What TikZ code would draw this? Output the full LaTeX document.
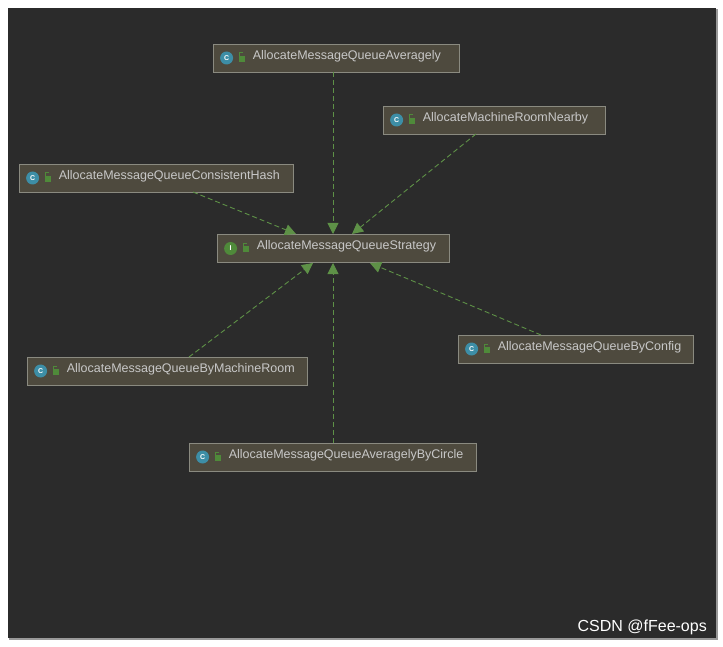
\documentclass[tikz,border=0pt]{standalone}
\usepackage{fontspec}
\setmainfont{Liberation Sans}
\usetikzlibrary{arrows.meta}
\definecolor{bg}{HTML}{2B2B2B}
\definecolor{boxf}{HTML}{4E4A3E}
\definecolor{boxd}{HTML}{8A8A80}
\definecolor{txt}{HTML}{C8C8C8}
\definecolor{grn}{HTML}{5E9147}
\definecolor{teal}{HTML}{3D8EA6}
\definecolor{igr}{HTML}{4F8A3A}
\tikzset{
 cls/.style={draw=boxd,fill=boxf,line width=0.8pt,minimum height=28pt,inner sep=0pt,anchor=center},
 lbl/.style={text=txt,font=\fontsize{12.5}{12.5}\selectfont,anchor=west,inner sep=0pt},
 rel/.style={draw=grn,line width=0.9pt,dash pattern=on 5pt off 3pt,-{Triangle[length=11pt,width=11pt,fill=grn]}},
}
\newcommand{\mkbox}[7]{% name, cx, cy, width, colour, letter, text
 \node[cls,minimum width=#4pt] (#1) at (#2,#3) {};
 \fill[#5] ([xshift=14pt]#1.west) circle (6.5pt);
 \node[text=white,font=\bfseries\fontsize{7}{7}\selectfont,inner sep=0pt] at ([xshift=14pt]#1.west) {#6};
 \fill[igr] ([xshift=26pt,yshift=-4pt]#1.west) rectangle ([xshift=32pt,yshift=2pt]#1.west);
 \draw[igr,line width=1pt] ([xshift=27pt,yshift=2pt]#1.west) -- ++(0,3pt) -- ++(3pt,0);
 \node[lbl] at ([xshift=40pt,yshift=2pt]#1.west) {#7};
}
\begin{document}
\begin{tikzpicture}[x=1pt,y=-1pt]
\useasboundingbox (0,0) rectangle (723,647);
\fill[white] (0,0) rectangle (723,647);
\fill[black!40] (9,9) rectangle (718,640);
\fill[bg] (8,8) rectangle (716,638);
\mkbox{avg}{336}{58}{246}{teal}{C}{AllocateMessageQueueAveragely}
\mkbox{near}{494}{120}{222}{teal}{C}{AllocateMachineRoomNearby}
\mkbox{hash}{156}{178}{274}{teal}{C}{AllocateMessageQueueConsistentHash}
\mkbox{str}{333}{248.5}{232}{igr}{I}{AllocateMessageQueueStrategy}
\mkbox{room}{167}{371}{280}{teal}{C}{AllocateMessageQueueByMachineRoom}
\mkbox{cfg}{575.5}{349}{235}{teal}{C}{AllocateMessageQueueByConfig}
\mkbox{circ}{332.5}{457}{287}{teal}{C}{AllocateMessageQueueAveragelyByCircle}
\coordinate (s1) at (333,72);
\coordinate (s2) at (476,134);
\coordinate (s3) at (193,192);
\coordinate (s4) at (189,357);
\coordinate (s5) at (541,335);
\coordinate (s6) at (333,443);
\draw[rel] (s1) -- (333,234);
\draw[rel] (s2) -- (352,234);
\draw[rel] (s3) -- (296,234);
\draw[rel] (s4) -- (313,263);
\draw[rel] (s5) -- (370,263);
\draw[rel] (s6) -- (333,263);
\node[text=white,font=\fontsize{16}{16}\selectfont,anchor=east,inner sep=0pt] (wm) at (707,627) {CSDN @fFee-ops};
\end{tikzpicture}
\end{document}
